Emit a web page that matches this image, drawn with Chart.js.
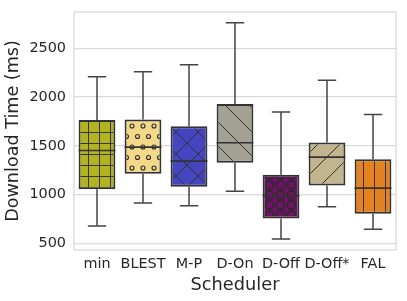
<!DOCTYPE html>
<html>
<head>
<meta charset="utf-8">
<script src="https://cdn.jsdelivr.net/npm/chart.js@4/dist/chart.umd.min.js"></script>
<style>
  html, body { margin: 0; padding: 0; background: #fff; }
  #wrap { width: 407px; height: 301px; }
</style>
</head>
<body>
<div id="wrap"><canvas id="chart" width="407" height="301"></canvas></div>
<script>
// box plot values (ms)
const schedulers = ['min', 'BLEST', 'M-P', 'D-On', 'D-Off', 'D-Off*', 'FAL'];
const whiskerLow = [678, 912, 884, 1035, 544, 874, 644];
const q1 = [1055, 1213, 1079, 1325, 754, 1092, 802];
const medians = [1452, 1487, 1343, 1531, 987, 1384, 1066];
const q3 = [1764, 1771, 1702, 1928, 1202, 1534, 1363];
const whiskerHigh = [2209, 2260, 2332, 2763, 1846, 2174, 1821];
const yTicks = [500, 1000, 1500, 2000, 2500];

const fillColors = ['#b3b320', '#f2d888', '#4545c0', '#a3a292', '#6d1465', '#c2b48c', '#e3821f'];
const hatches = ['+', 'o', 'x', '\\', 'O', '/', '|'];

const EDGE = '#333333';
const TEXT = '#262626';

function makePattern(ctx, color, hatch) {
  let w = 11, h = 11;
  if (hatch === 'o') { w = 11; h = 21; }
  if (hatch === 'x') { w = 22; h = 22; }
  if (hatch === '\\') { w = 24; h = 24; }
  if (hatch === '/') { w = 22; h = 22; }
  if (hatch === 'O') { w = 11; h = 10; }
  const c = document.createElement('canvas');
  c.width = w; c.height = h;
  const p = c.getContext('2d');
  p.fillStyle = color;
  p.fillRect(0, 0, w, h);
  p.strokeStyle = EDGE;
  p.lineWidth = 1;
  p.beginPath();
  if (hatch === '+') {
    p.moveTo(0.5, 0); p.lineTo(0.5, h);
    p.moveTo(0, 0.5); p.lineTo(w, 0.5);
  } else if (hatch === '|') {
    p.moveTo(0.5, 0); p.lineTo(0.5, h);
  } else if (hatch === 'x' || hatch === '\\' || hatch === '/') {
    for (const off of [-w, 0, w]) {
      if (hatch !== '/') { p.moveTo(off, 0); p.lineTo(off + w, h); }
      if (hatch !== '\\') { p.moveTo(off + w, 0); p.lineTo(off, h); }
    }
  }
  p.stroke();
  if (hatch === 'o' || hatch === 'O') {
    const r = hatch === 'o' ? 2 : 4.1;
    const pts = hatch === 'o'
      ? [[0, 0], [w, 0], [0, h], [w, h], [w / 2, h / 2]]
      : [[w / 2, h / 2]];
    p.strokeStyle = '#2a2a2a';
    p.lineWidth = hatch === 'o' ? 1.1 : 1.5;
    pts.forEach(([x, y]) => {
      p.beginPath();
      p.arc(x, y, r, 0, Math.PI * 2);
      p.stroke();
    });
  }
  return ctx.createPattern(c, 'repeat');
}

const boxPlugin = {
  id: 'boxParts',
  beforeDatasetsDraw(chart) {
    const { ctx, chartArea: a } = chart;
    ctx.save();
    ctx.strokeStyle = '#d9d9d9';
    ctx.lineWidth = 1.3;
    ctx.strokeRect(a.left, a.top, a.right - a.left, a.bottom - a.top);
    // whiskers and caps
    const x = chart.scales.x, y = chart.scales.y;
    const meta = chart.getDatasetMeta(0);
    ctx.strokeStyle = '#444';
    ctx.lineWidth = 1.5;
    schedulers.forEach((s, i) => {
      const cx = x.getPixelForValue(i);
      const half = meta.data[i].width / 2;
      const cap = half / 2;
      ctx.beginPath();
      ctx.moveTo(cx, y.getPixelForValue(q3[i]));
      ctx.lineTo(cx, y.getPixelForValue(whiskerHigh[i]));
      ctx.moveTo(cx, y.getPixelForValue(q1[i]));
      ctx.lineTo(cx, y.getPixelForValue(whiskerLow[i]));
      ctx.moveTo(cx - cap, y.getPixelForValue(whiskerHigh[i]));
      ctx.lineTo(cx + cap, y.getPixelForValue(whiskerHigh[i]));
      ctx.moveTo(cx - cap, y.getPixelForValue(whiskerLow[i]));
      ctx.lineTo(cx + cap, y.getPixelForValue(whiskerLow[i]));
      ctx.stroke();
    });
    ctx.restore();
  },
  afterDatasetsDraw(chart) {
    const { ctx } = chart;
    const x = chart.scales.x, y = chart.scales.y;
    const meta = chart.getDatasetMeta(0);
    ctx.save();
    ctx.strokeStyle = EDGE;
    ctx.lineWidth = 1.6;
    schedulers.forEach((s, i) => {
      const cx = x.getPixelForValue(i);
      const half = meta.data[i].width / 2;
      const my = y.getPixelForValue(medians[i]);
      ctx.beginPath();
      ctx.moveTo(cx - half, my);
      ctx.lineTo(cx + half, my);
      ctx.stroke();
    });
    ctx.restore();
  }
};

const canvas = document.getElementById('chart');
const ctx = canvas.getContext('2d');

new Chart(ctx, {
  type: 'bar',
  data: {
    labels: schedulers,
    datasets: [{
      data: schedulers.map((s, i) => [q1[i], q3[i]]),
      backgroundColor: fillColors.map((c, i) => makePattern(ctx, c, hatches[i])),
      borderColor: EDGE,
      borderWidth: 2,
      borderSkipped: false,
      barPercentage: 0.8,
      categoryPercentage: 1.0
    }]
  },
  options: {
    responsive: false,
    animation: false,
    events: [],
    layout: { padding: { top: 12, right: 11, left: 0, bottom: 0 } },
    plugins: {
      legend: { display: false },
      tooltip: { enabled: false }
    },
    scales: {
      x: {
        grid: { display: false, drawTicks: false },
        border: { display: false },
        ticks: {
          color: TEXT,
          padding: 6,
          maxRotation: 0,
          autoSkip: false,
          font: { family: 'DejaVu Sans', size: 14.4 }
        },
        title: {
          display: true,
          text: 'Scheduler',
          color: TEXT,
          padding: { top: 0, bottom: 5 },
          font: { family: 'DejaVu Sans', size: 17.8 }
        },
        afterFit(scale) {
          scale.height = 51;
          scale.paddingLeft = 0;
          scale.paddingRight = 0;
        }
      },
      y: {
        min: 431,
        max: 2873,
        grid: { color: '#d9d9d9', lineWidth: 1.3, drawTicks: false },
        border: { display: false },
        afterBuildTicks(scale) { scale.ticks = yTicks.map(v => ({ value: v })); },
        ticks: {
          color: TEXT,
          padding: 8,
          callback: v => String(v),
          font: { family: 'DejaVu Sans', size: 14.4 }
        },
        title: {
          display: true,
          text: 'Download Time (ms)',
          color: TEXT,
          padding: { top: 3, bottom: 0 },
          font: { family: 'DejaVu Sans', size: 17.6 }
        },
        afterFit(scale) {
          scale.width = 74;
          scale.paddingTop = 0;
          scale.paddingBottom = 0;
        }
      }
    }
  },
  plugins: [boxPlugin]
});
</script>
</body>
</html>
